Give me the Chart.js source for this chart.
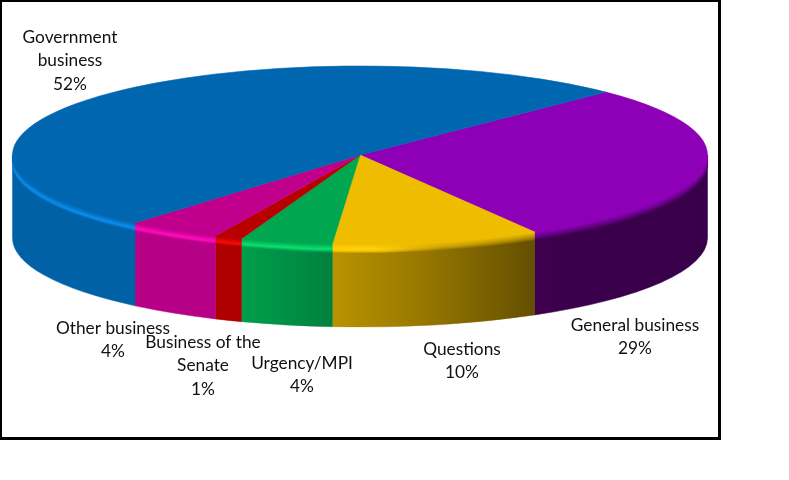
<!DOCTYPE html>
<html lang="en">
<head>
  <meta charset="UTF-8" />
  <title>Chamber time by business type</title>
  <script src="https://cdn.jsdelivr.net/npm/chart.js"></script>
  <style>
    html, body { margin: 0; background: #fff; }
    #wrap { position: relative; width: 789px; height: 480px; overflow: hidden; }
    #frame { position: absolute; left: 0; top: 0; width: 716px; height: 435px; border: 2px solid #000; border-width: 2px 3px 3px 2px; }
    canvas { position: absolute; left: 0; top: 0; }
  </style>
</head>
<body>
  <div id="wrap">
    <div id="frame"></div>
    <canvas id="pie" width="789" height="480"></canvas>
  </div>

  <script>
    // clockwise from the general business slice
    const categories = [['General business'], ['Questions'], ['Urgency/MPI'], ['Business of the', 'Senate'], ['Other business'], ['Government', 'business']];
    const shares = [29.3, 9.7, 4.3, 1.3, 4.4, 51.6];
    const sliceColors = ['#8E00B8', '#EFBD00', '#00A650', '#B80000', '#C0008C', '#0066B0'];
    const firstSliceAngle = 45;

    // centre of each label's first line
    const labelAnchors = [[635, 325], [462, 349], [302, 363], [203, 342], [113, 328], [70, 37]];
    const lineGap = 23.5;

    // pie geometry
    const cx = 360, cy = 155, rx = 347.5, ry = 89, depth = 83, rim = 8;

    function rgb(hex) {
      return [1, 3, 5].map(i => parseInt(hex.slice(i, i + 2), 16));
    }
    function css(c) {
      return 'rgb(' + c.map(v => Math.max(0, Math.min(255, Math.round(v)))).join(',') + ')';
    }
    function shade(c, k, add) {
      return c.map(v => v * k + (add || 0));
    }
    function mix(a, b, f) {
      return a.map((v, i) => v + (b[i] - v) * f);
    }

    // brightness of the wall going left to right
    const wallStops = [[0, 0.95], [0.33, 0.95], [0.46, 0.78], [0.6, 0.62], [0.75, 0.42], [1, 0.4]];

    function wallGradient(ctx, base) {
      const g = ctx.createLinearGradient(cx - rx, 0, cx + rx, 0);
      wallStops.forEach(s => g.addColorStop(s[0], css(shade(base, s[1]))));
      return g;
    }

    function visible(el) {
      const a0 = Math.max(el.startAngle, 0), a1 = Math.min(el.endAngle, Math.PI);
      return a1 > a0 ? [a0, a1] : null;
    }

    const pie3d = {
      id: 'pie3d',
      beforeDatasetsDraw(chart) {
        const ctx = chart.ctx;
        chart.getDatasetMeta(0).data.forEach((el, i) => {
          const span = visible(el);
          if (!span) return;
          ctx.beginPath();
          ctx.ellipse(cx, cy, rx, ry, 0, span[0], span[1]);
          ctx.ellipse(cx, cy + depth, rx, ry, 0, span[1], span[0], true);
          ctx.closePath();
          ctx.fillStyle = ctx.strokeStyle = wallGradient(ctx, rgb(sliceColors[i]));
          ctx.lineWidth = 0.5;
          ctx.fill();
          ctx.stroke();
        });
        // flatten the library's round pie into the tilted top face
        ctx.save();
        ctx.translate(cx, cy);
        ctx.scale(1, ry / rx);
        ctx.translate(-cx, -cy);
      },
      afterDatasetsDraw(chart) {
        const ctx = chart.ctx;
        ctx.restore();
        // bevel just below the front edge of the top face
        chart.getDatasetMeta(0).data.forEach((el, i) => {
          const span = visible(el);
          if (!span) return;
          const base = rgb(sliceColors[i]);
          const bright = shade(base, Math.min(1.3, 255 / Math.max(...base)), 10);
          for (let t = rim; t >= 0; t -= 0.5) {
            const f = 1 - t / rim;
            const lit = f > 0.35 ? mix(bright, base, (f - 0.35) / 0.65) : mix(shade(base, 0.95), bright, f / 0.35);
            const dark = mix(shade(base, 0.42), base, Math.pow(f, 0.8));
            const g = ctx.createLinearGradient(cx - rx, 0, cx + rx, 0);
            g.addColorStop(0, css(lit));
            g.addColorStop(0.52, css(lit));
            g.addColorStop(0.62, css(mix(lit, dark, 0.6)));
            g.addColorStop(0.78, css(dark));
            g.addColorStop(1, css(dark));
            ctx.beginPath();
            ctx.ellipse(cx, cy + t, rx, ry, 0, span[0], span[1]);
            ctx.strokeStyle = g;
            ctx.lineWidth = 1.2;
            ctx.stroke();
          }
        });
        // labels
        ctx.fillStyle = '#111';
        ctx.font = '17.3px Lato';
        ctx.textAlign = 'center';
        ctx.textBaseline = 'middle';
        categories.forEach((lines, i) => {
          const [x, y] = labelAnchors[i];
          lines.concat(Math.round(shares[i]) + '%').forEach((line, n) => {
            ctx.fillText(line, x, y + n * lineGap);
          });
        });
      }
    };

    new Chart(document.getElementById('pie'), {
      type: 'pie',
      data: {
        labels: categories,
        datasets: [{
          data: shares,
          backgroundColor: sliceColors,
          borderColor: sliceColors,
          borderWidth: 1,
          radius: rx,
          clip: false
        }]
      },
      options: {
        responsive: false,
        animation: false,
        rotation: firstSliceAngle,
        layout: { padding: { right: 789 - 2 * cx, bottom: 480 - 2 * cy } },
        plugins: { legend: { display: false }, tooltip: { enabled: false } }
      },
      plugins: [pie3d]
    });
  </script>
</body>
</html>
